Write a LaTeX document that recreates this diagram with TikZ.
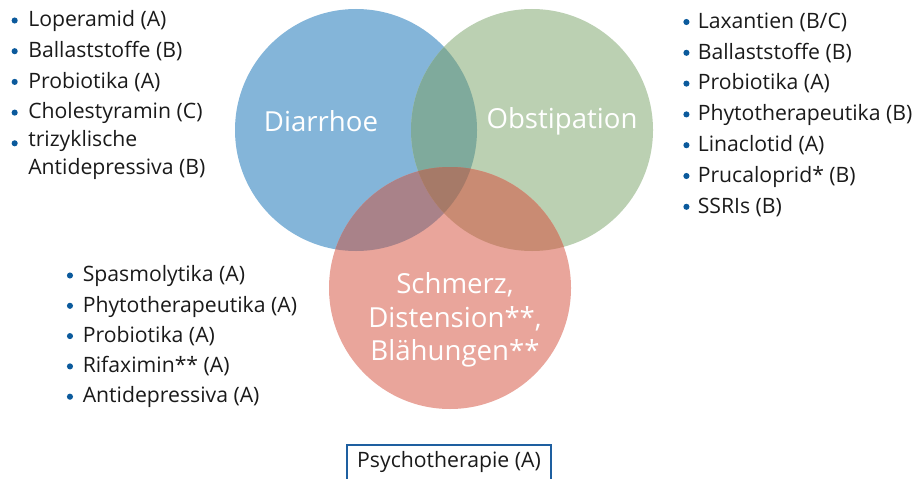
\documentclass[tikz,border=0pt]{standalone}
\usepackage{fontspec}
\setmainfont{Open Sans}
\usetikzlibrary{positioning, calc}
\definecolor{cdia}{HTML}{84B5D9}
\definecolor{cobs}{HTML}{BBD0B2}
\definecolor{cpain}{HTML}{E9A59B}
\definecolor{cdiaobs}{HTML}{7FAA9C}
\definecolor{cdiapain}{HTML}{A98289}
\definecolor{cobspain}{HTML}{C98B73}
\definecolor{call}{HTML}{A67A68}
\definecolor{cdot}{HTML}{0B5A9C}
\definecolor{cbox}{HTML}{1E5FA0}
\definecolor{ctext}{HTML}{1A1A1A}
\tikzset{
  every picture/.style={font=\fontsize{15.9}{21}\selectfont},
  item/.style={anchor=north west, yshift=14.7pt, inner sep=0pt, align=left, text=ctext,
    execute at begin node=\strut},
  dot/.style={circle, fill=cdot, inner sep=0pt, minimum size=4.6pt},
  zone/.style={font=\fontsize{20.7}{25}\selectfont, text=white, align=center},
}
\def\rad{90.75pt}

\begin{document}
\begin{tikzpicture}[x=0.75pt, y=-0.75pt]
  \useasboundingbox (0,0) rectangle (916,478);
  % the three circles
  \coordinate (dia) at (356,130);
  \coordinate (obs) at (532,130);
  \coordinate (pain) at (450,288);
  \fill[cdia] (dia) circle (\rad);
  \fill[cobs] (obs) circle (\rad);
  \fill[cpain] (pain) circle (\rad);
  % overlaps
  \begin{scope}
    \clip (dia) circle (\rad);
    \fill[cdiaobs] (obs) circle (\rad);
    \fill[cdiapain] (pain) circle (\rad);
  \end{scope}
  \begin{scope}
    \clip (obs) circle (\rad);
    \fill[cobspain] (pain) circle (\rad);
  \end{scope}
  \begin{scope}
    \clip (dia) circle (\rad);
    \clip (obs) circle (\rad);
    \fill[call] (pain) circle (\rad);
  \end{scope}
  \node[zone] (ldia) at (321,121) {Diarrhoe};
  \node[zone] (lobs) at (562,121) {Obstipation};
  \node[zone] (lpain) at (455,320) {Schmerz,\\Distension**,\\Blähungen**};
  % lists
  \foreach \t [count=\i] in {Loperamid (A), Ballaststoffe (B), Probiotika (A), Cholestyramin (C), {trizyklische\\Antidepressiva (B)}} {
    \node[item] (tdia\i) at (28,{26.5+30.7*(\i-1)}) {\t};
  }
  \foreach \t [count=\i] in {Laxantien (B/C), Ballaststoffe (B), Probiotika (A), Phytotherapeutika (B), Linaclotid (A), Prucaloprid* (B), SSRIs (B)} {
    \node[item] (tobs\i) at (697.5,{28+30.8*(\i-1)}) {\t};
  }
  \foreach \t [count=\i] in {Spasmolytika (A), Phytotherapeutika (A), Probiotika (A), Rifaximin** (A), Antidepressiva (A)} {
    \node[item] (tpain\i) at (82.5,{281.5+30.3*(\i-1)}) {\t};
  }
  \foreach \i in {1,...,5} \node[dot] (ddia\i) at ([xshift=-10pt, yshift=-10.2pt]tdia\i.north west) {};
  \foreach \i in {1,...,7} \node[dot] (dobs\i) at ([xshift=-8.3pt, yshift=-10.2pt]tobs\i.north west) {};
  \foreach \i in {1,...,5} \node[dot] (dpain\i) at ([xshift=-9.4pt, yshift=-10.2pt]tpain\i.north west) {};
  % box at the bottom
  \node[draw=cbox, line width=1.6pt, text=ctext, inner ysep=0pt, inner xsep=7.5pt,
        text height=16.5pt, text depth=20pt, anchor=base] (psy) at (449,467) {Psychotherapie (A)};
\end{tikzpicture}
\end{document}
